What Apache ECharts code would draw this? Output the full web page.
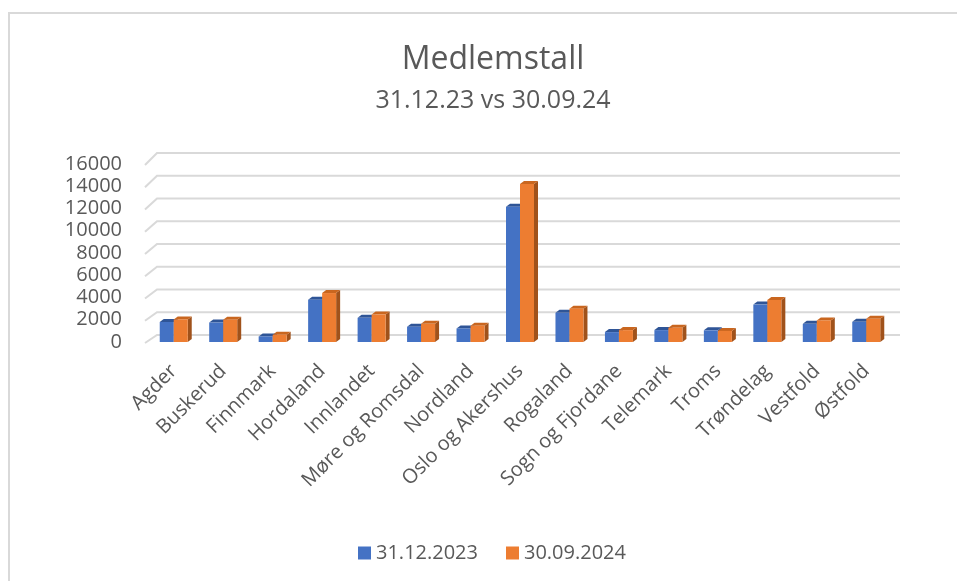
<!DOCTYPE html>
<html>
<head>
<meta charset="utf-8">
<script src="https://cdn.jsdelivr.net/npm/echarts@6/dist/echarts.min.js"></script>
<style>
    html, body {margin: 0; padding: 0; background: #fff;}
    #chart {width: 957px; height: 581px;}
</style>
</head>
<body>
<div id="chart"></div>
<script>
// fylker
var categories = ['Agder', 'Buskerud', 'Finnmark', 'Hordaland', 'Innlandet', 'Møre og Romsdal', 'Nordland',
    'Oslo og Akershus', 'Rogaland', 'Sogn og Fjordane', 'Telemark', 'Troms', 'Trøndelag', 'Vestfold', 'Østfold'];
var members2023 = [1800, 1750, 500, 3800, 2170, 1370, 1220, 12150, 2620, 890, 1070, 1050, 3360, 1630, 1810];
var members2024 = [2030, 2000, 650, 4400, 2470, 1630, 1460, 14200, 3000, 1070, 1280, 1000, 3780, 1940, 2080];
var yTicks = [0, 2000, 4000, 6000, 8000, 10000, 12000, 14000, 16000];

var textColor = '#595959';
var font = '"Open Sans", "Liberation Sans", sans-serif';

// 3D-aktig søyle: front, topp og side
function barRenderer(offset, front, topColor, sideColor) {
    return function (params, api) {
        var idx = api.value(0);
        var base = api.coord([idx, 0]);
        var top = api.coord([idx, api.value(1)]);
        var w = 14, dx = 4, dy = 3;
        var x0 = base[0] + offset;
        return {
            type: 'group',
            children: [
                {type: 'polygon', shape: {points: [[x0 + w, top[1]], [x0 + w + dx, top[1] - dy], [x0 + w + dx, base[1] - dy], [x0 + w, base[1]]]},
                    style: {fill: sideColor}},
                {type: 'polygon', shape: {points: [[x0, top[1]], [x0 + dx, top[1] - dy], [x0 + w + dx, top[1] - dy], [x0 + w, top[1]]]},
                    style: {fill: topColor}},
                {type: 'rect', shape: {x: x0, y: top[1], width: w, height: base[1] - top[1]},
                    style: {fill: front}}
            ]
        };
    };
}

// bakre rutenett med skrå kant
function gridRenderer(params, api) {
    var v = api.value(1);
    var y = api.coord([0, v])[1];
    var cs = params.coordSys;
    var dy = 7 + 4 * v / 16000;
    return {
        type: 'polyline',
        shape: {points: [[cs.x - 4, y + 1], [cs.x + 8, y - dy], [cs.x + cs.width + 9, y - dy]]},
        style: {fill: null, stroke: '#d9d9d9', lineWidth: 2}
    };
}

var chart = echarts.init(document.getElementById('chart'));
chart.setOption({
    animation: false,
    backgroundColor: '#fff',
    textStyle: {fontFamily: font},
    graphic: [{
        type: 'rect',
        shape: {x: 9, y: 13, width: 960, height: 580},
        style: {fill: null, stroke: '#d9d9d9', lineWidth: 2},
        silent: true
    }],
    title: {
        text: 'Medlemstall',
        subtext: '31.12.23 vs 30.09.24',
        left: 488,
        top: 39,
        textAlign: 'center',
        itemGap: 12,
        textStyle: {fontSize: 32, fontWeight: 'normal', color: textColor, fontFamily: font},
        subtextStyle: {fontSize: 25, color: textColor, fontFamily: font}
    },
    legend: {
        data: ['31.12.2023', '30.09.2024'],
        left: 353,
        top: 538,
        icon: 'rect',
        itemWidth: 13,
        itemHeight: 13,
        itemGap: 28,
        textStyle: {fontSize: 20, color: textColor, fontFamily: font}
    },
    grid: {left: 149, right: 66, top: 164, bottom: 239},
    xAxis: {
        type: 'category',
        data: categories,
        axisLine: {show: false},
        axisTick: {show: false},
        axisLabel: {rotate: 45, interval: 0, margin: 26, fontSize: 20, color: textColor, fontFamily: font}
    },
    yAxis: {
        type: 'value',
        min: 0,
        max: 16000,
        interval: 2000,
        axisLine: {show: false},
        axisTick: {show: false},
        splitLine: {show: false},
        axisLabel: {
            margin: 27, fontSize: 20, color: textColor, fontFamily: font,
            formatter: function (v) { return String(v); }
        }
    },
    series: [
        {
            type: 'custom',
            name: 'grid',
            silent: true,
            z: 1,
            renderItem: gridRenderer,
            encode: {x: 0, y: 1},
            data: yTicks.map(function (v) { return [0, v]; })
        },
        {
            type: 'custom',
            name: '31.12.2023',
            z: 2,
            itemStyle: {color: '#4472C4'},
            renderItem: barRenderer(-14, '#4472C4', '#2F5597', '#2F528F'),
            encode: {x: 0, y: 1},
            data: members2023.map(function (v, i) { return [i, v]; })
        },
        {
            type: 'custom',
            name: '30.09.2024',
            z: 3,
            itemStyle: {color: '#ED7D31'},
            renderItem: barRenderer(0, '#ED7D31', '#C9661F', '#A0521B'),
            encode: {x: 0, y: 1},
            data: members2024.map(function (v, i) { return [i, v]; })
        }
    ]
});
</script>
</body>
</html>
